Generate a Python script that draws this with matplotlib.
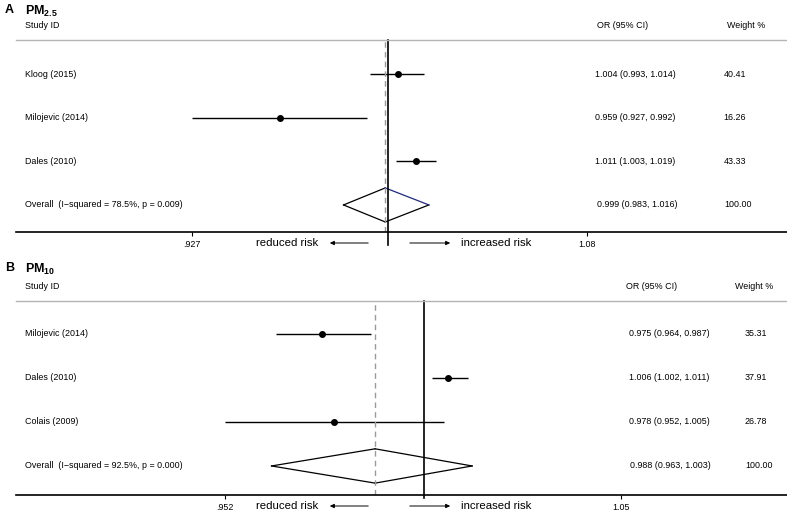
import numpy as np
import matplotlib
matplotlib.use("Agg")
import matplotlib.pyplot as plt
from matplotlib.patches import FancyArrowPatch

plt.rcParams['font.family'] = ['Liberation Sans', 'DejaVu Sans']
plt.rcParams['mathtext.fontset'] = 'custom'
plt.rcParams['mathtext.rm'] = 'Liberation Sans'
plt.rcParams['mathtext.bf'] = 'Liberation Sans:bold'

# PM2.5 panel
pm25_studies = ['Kloog (2015)', 'Milojevic (2014)', 'Dales (2010)']
pm25_or = [1.004, 0.959, 1.011]
pm25_lo = [0.993, 0.927, 1.003]
pm25_hi = [1.014, 0.992, 1.019]
pm25_weight = ['40.41', '16.26', '43.33']
pm25_pooled = [0.999, 0.983, 1.016]          # estimate, low, high (as drawn)
pm25_pooled_text = '0.999 (0.983, 1.016)'
pm25_overall = 'Overall  (I\u2212squared = 78.5%, p = 0.009)'
pm25_ticks = [0.927, 1.08]
pm25_ticklabels = ['.927', '1.08']

# PM10 panel
pm10_studies = ['Milojevic (2014)', 'Dales (2010)', 'Colais (2009)']
pm10_or = [0.975, 1.006, 0.978]
pm10_lo = [0.964, 1.002, 0.952]
pm10_hi = [0.987, 1.011, 1.005]
pm10_weight = ['35.31', '37.91', '26.78']
pm10_pooled = [0.988, 0.963, 1.012]
pm10_pooled_text = '0.988 (0.963, 1.003)'
pm10_overall = 'Overall  (I\u2212squared = 92.5%, p = 0.000)'
pm10_ticks = [0.952, 1.05]
pm10_ticklabels = ['.952', '1.05']

W, H = 787, 512
FS = 6.4
fig = plt.figure(figsize=(W / 100, H / 100), dpi=100)


def px(x, y):
    return x / W, 1 - y / H


def panel(ax, studies, ors, los, his, weights, pooled, pooled_text, overall,
          ticks, ticklabels, xlim, ylim, col_or, col_w, head_or, head_w,
          null_ext, navy_edge):
    rows = np.arange(len(studies) + 1, 1, -1)
    ax.set_xscale('log')
    ax.set_xlim(*xlim)
    ax.set_ylim(*ylim)
    tr = ax.get_yaxis_transform()

    for y, o, lo, hi in zip(rows, ors, los, his):
        ax.plot([lo, hi], [y, y], color='black', lw=1.0, solid_capstyle='butt')
        ax.plot(o, y, 'o', color='black', ms=4.0)

    # pooled diamond, drawn edge by edge
    est, lo, hi = pooled
    hh = 0.39
    ax.plot([lo, est], [1, 1 + hh], color='black', lw=0.9)
    ax.plot([lo, est], [1, 1 - hh], color='black', lw=0.9)
    ax.plot([est, hi], [1 - hh, 1], color='black', lw=0.9)
    ax.plot([est, hi], [1 + hh, 1], color='#1f2a80' if navy_edge else 'black', lw=0.9)

    ax.axvline(est, color='#9a9a9a', lw=1.0, ls=(0, (4, 3)))
    ax.axvline(1, ymin=-null_ext, ymax=1, color='black', lw=1.2, clip_on=False)

    # text columns
    for y, s, o, lo_, hi_, w in zip(rows, studies, ors, los, his, weights):
        ax.text(0.0117, y, s, transform=tr, fontsize=FS, va='center')
        ax.text(col_or, y, f'{o:.3f} ({lo_:.3f}, {hi_:.3f})', transform=tr,
                fontsize=FS, va='center')
        ax.text(col_w, y, w, transform=tr, fontsize=FS, va='center')
    ax.text(0.0117, 1, overall, transform=tr, fontsize=FS, va='center')
    ax.text(col_or + 0.002, 1, pooled_text, transform=tr, fontsize=FS, va='center')
    ax.text(col_w + 0.001, 1, '100.00', transform=tr, fontsize=FS, va='center')

    ax.text(0.0117, 1.075, 'Study ID', transform=ax.transAxes, fontsize=FS, va='center')
    ax.text(head_or, 1.075, 'OR (95% CI)', transform=ax.transAxes, fontsize=FS, va='center')
    ax.text(head_w, 1.075, 'Weight %', transform=ax.transAxes, fontsize=FS, va='center')

    ax.set_yticks([])
    ax.set_xticks(ticks)
    ax.set_xticklabels(ticklabels, fontsize=6.4)
    ax.xaxis.set_minor_locator(matplotlib.ticker.NullLocator())
    ax.tick_params(axis='x', direction='out', length=3, width=0.8, pad=3)
    for s in ['left', 'right']:
        ax.spines[s].set_visible(False)
    ax.spines['top'].set_color('#b4b4b4')
    ax.spines['top'].set_linewidth(1.0)
    ax.spines['bottom'].set_linewidth(1.2)
    ax.patch.set_alpha(0)


axA = fig.add_axes([16 / W, 1 - 232 / H, 771 / W, 192 / H])
panel(axA, pm25_studies, pm25_or, pm25_lo, pm25_hi, pm25_weight, pm25_pooled,
      pm25_pooled_text, pm25_overall, pm25_ticks, pm25_ticklabels,
      (0.866, 1.167), (0.38, 4.78), 0.751, 0.918, 0.7536, 0.922, 0.068, True)

axB = fig.add_axes([16 / W, 1 - 495 / H, 771 / W, 194 / H])
panel(axB, pm10_studies, pm10_or, pm10_lo, pm10_hi, pm10_weight, pm10_pooled,
      pm10_pooled_text, pm10_overall, pm10_ticks, pm10_ticklabels,
      (0.904, 1.094), (0.34, 4.75), 0.795, 0.9455, 0.791, 0.9326, 0.016, False)

# panel titles
for letter, title, y in [('A', r'$\mathbf{PM_{2.5}}$', 10), ('B', r'$\mathbf{PM_{10}}$', 268)]:
    fig.text(*px(5, y), letter, fontsize=9, fontweight='bold', va='center')
    fig.text(*px(25, y + 1), title, fontsize=9, va='center')

# direction labels
for y in [243, 506]:
    fig.text(*px(318, y), 'reduced risk', fontsize=8.2, ha='right', va='center')
    fig.text(*px(461, y), 'increased risk', fontsize=8.2, ha='left', va='center')
    fig.patches.append(FancyArrowPatch(
        px(371, y), px(327, y), transform=fig.transFigure,
        arrowstyle='-|>,head_length=2.5,head_width=1.2',
        color='black', lw=0.7, mutation_scale=1))
    fig.patches.append(FancyArrowPatch(
        px(407, y), px(453, y), transform=fig.transFigure,
        arrowstyle='-|>,head_length=2.5,head_width=1.2',
        color='black', lw=0.7, mutation_scale=1))

fig.savefig('out.png', dpi=100)
